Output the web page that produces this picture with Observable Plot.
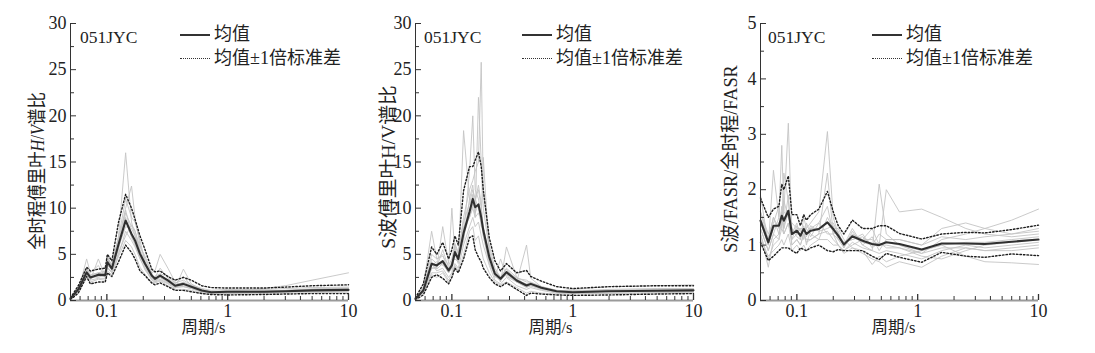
<!DOCTYPE html>
<html><head><meta charset="utf-8">
<script src="https://cdn.jsdelivr.net/npm/d3@7"></script>
<script src="https://cdn.jsdelivr.net/npm/@observablehq/plot@0.6"></script>
<style>
body{margin:0;background:#fff;width:1095px;height:353px;position:relative;overflow:hidden;font-family:"Liberation Serif","Noto Sans CJK SC",serif;color:#222;}
.panel{position:absolute;top:0;}
.ylab{position:absolute;white-space:nowrap;font-size:19px;line-height:20px;}
.leg{position:absolute;white-space:nowrap;font-size:18px;line-height:20px;}
.sw{position:absolute;height:0;}
</style></head><body>
<script>
// ---------- data ----------
// Panel 1: whole-record Fourier H/V ratio
const periods1 = [0.05,0.058,0.068,0.073,0.085,0.097,0.101,0.11,0.125,0.143,0.16,0.171,0.188,0.207,0.235,0.25,0.276,0.32,0.367,0.43,0.5,0.61,0.73,1,2,3,5,10];
const mean1  = [0.2,1.2,3.05,2.5,2.8,2.75,4.15,3.45,6.1,8.65,7.2,6.5,5.05,3.97,2.7,2.35,2.7,2.17,1.6,1.8,1.5,1.08,0.9,0.95,0.95,1.0,1.1,1.15];
const upper1 = [0.3,1.6,3.6,3.2,3.4,3.5,5.0,4.3,8.5,11.5,10,8.8,7.0,5.5,3.4,3.1,3.2,2.6,2.2,2.5,2.2,1.6,1.4,1.35,1.35,1.45,1.6,1.7];
const lower1 = [0.1,0.8,2.6,1.8,2.0,2.0,3.0,2.6,4.2,6.0,5.2,4.5,3.2,2.7,1.9,1.7,1.9,1.5,1.1,1.1,0.95,0.75,0.65,0.6,0.65,0.7,0.75,0.75];
const rec1a = [0.2,1.5,3.5,2.8,3.0,3.2,4.5,3.8,7,16,8.5,7,5.5,4.2,2.8,2.4,2.8,2.2,1.7,1.9,1.5,1.1,1.0,1.0,1.3,1.6,2.2,3.0];
const rec1b = [0.1,1.0,4.5,3.0,3.8,2.5,5.0,3.2,6.5,10,12.4,9,6,4.5,3.0,3.2,5.0,3.5,2.0,1.6,1.4,1.0,0.8,0.8,0.85,0.9,1.0,1.0];
const rec1c = [0.2,1.1,2.8,2.2,4.5,2.6,3.5,3.0,5.0,7.5,6.5,5.8,4.5,3.5,2.2,2.0,2.2,1.8,1.3,3.4,1.8,1.2,0.9,1.1,1.2,1.3,1.4,1.45];
const rec1d = [0.3,1.4,3.2,2.6,2.6,3.0,4.0,3.6,5.5,9.5,8.0,7.5,5.8,4.8,3.0,2.2,2.5,2.0,1.5,1.5,1.3,0.9,0.8,0.7,0.75,0.8,0.85,0.9];
const rec1e = [0.2,0.9,2.4,2.0,2.3,2.2,3.2,2.8,4.8,6.5,5.8,5.0,3.6,2.8,2.0,1.9,2.1,1.6,1.2,1.2,1.1,0.8,0.7,0.75,0.9,1.0,1.1,1.2];
const rec1f = [0.2,1.3,3.3,2.7,3.0,2.9,4.3,4.0,6.8,11,9,8.5,6.5,4.2,2.6,2.6,2.9,2.6,1.9,2.2,1.7,1.3,1.1,1.2,1.1,1.1,1.2,1.25];
const rec1g = [0.25,1.2,3.0,2.4,2.7,2.6,3.8,3.3,5.8,8.0,7.8,7.0,5.0,3.6,2.4,2.2,2.5,2.0,1.5,1.7,1.4,1.0,0.85,0.9,0.95,1.05,1.15,1.2];
const rec1h = [0.15,1.1,2.9,2.3,2.9,2.7,4.6,3.9,6.3,9.8,7.0,6.0,4.8,3.8,2.8,2.5,3.5,2.4,1.8,2.6,1.6,1.2,0.95,1.0,1.0,1.05,1.2,1.3];
const rec1i = [0.2,1.3,3.4,2.6,2.5,2.8,3.6,3.1,5.2,7.0,8.2,7.6,5.3,3.9,2.5,2.1,2.3,1.9,1.4,1.5,1.3,0.95,0.8,0.85,0.9,0.95,1.0,1.05];
const rec1j = [0.3,1.0,2.7,2.2,2.4,2.4,4.9,3.5,6.0,9.0,6.8,6.2,4.6,3.3,2.3,2.0,2.6,2.1,1.6,2.0,1.6,1.1,0.9,0.95,1.0,1.1,1.25,1.35];

// Panel 2: S-wave Fourier H/V ratio
const periods2 = [0.05,0.058,0.068,0.075,0.084,0.094,0.1,0.106,0.113,0.125,0.14,0.149,0.156,0.166,0.175,0.182,0.204,0.227,0.253,0.283,0.344,0.415,0.45,0.55,0.735,1,2,5,10];
const mean2  = [0.18,1.08,3.97,3.8,4.26,3.25,3.8,5.24,4.5,7.3,9.6,11.0,10.1,10.4,9.0,7.6,4.7,2.9,2.35,3.07,2.17,1.63,1.8,1.37,1.0,0.9,1.0,1.05,1.1];
const upper2 = [0.3,1.8,5.8,5.0,6.3,4.5,5.5,7.0,6.0,11.9,14.5,14.5,15.2,16.1,14.5,12,6.8,4.3,3.2,4.0,3.0,3.25,2.6,2.1,1.5,1.3,1.5,1.6,1.6];
const lower2 = [0.1,0.6,2.5,2.8,2.4,1.8,2.5,3.5,3.0,4.5,6.8,7.0,5.5,4.7,4.2,3.5,2.5,1.8,1.5,1.9,1.2,0.55,0.8,0.7,0.6,0.55,0.6,0.7,0.75];
const rec2a = [0.2,1.5,7.5,4.5,5.0,3.0,4.0,6.0,5.0,9,12,13,14,15,25.8,12,6,3.5,2.5,3.5,2.5,2.0,2.0,1.5,1.1,1.0,1.2,1.3,1.3];
const rec2b = [0.1,0.8,3.5,3.5,8.0,4.0,10,5.0,4.0,18.4,11,10,9,22,15,10,5.5,3.0,2.0,5.8,2.5,1.5,1.6,1.2,0.9,0.9,1.0,1.1,1.1];
const rec2c = [0.2,1.2,4.0,3.2,3.5,2.5,3.0,5.5,4.5,7,14,20,12,11,9,15.5,5,2.5,4.5,2.6,2.0,6.0,2.4,1.5,1.0,1.2,1.5,1.6,1.7];
const rec2d = [0.3,1.0,3.0,3.0,3.2,2.2,2.8,4.0,3.5,6,8,9,8,8.5,7,6,3.8,2.2,1.8,2.5,1.6,1.2,1.4,1.1,0.8,0.75,0.8,0.85,0.9];
const rec2e = [0.1,1.3,5.0,4.5,4.8,3.8,4.5,6.2,5.2,8.5,10.5,12,11,12,10,8,4.5,3.2,2.6,3.4,2.2,1.8,1.9,1.4,1.0,1.1,1.1,1.15,1.2];
const rec2f = [0.2,0.9,2.8,2.5,3.0,2.0,2.5,3.8,3.2,5,7.5,8,6.5,7,5.5,4.5,3.0,2.0,1.7,2.0,1.4,0.8,1.0,0.8,0.7,0.7,0.75,0.8,0.8];
const rec2g = [0.2,1.1,4.5,4.0,4.0,3.0,3.5,5.0,4.8,7.8,9.0,10,11,10,8.5,7.0,4.2,2.6,2.2,2.8,2.0,1.5,1.7,1.3,0.95,0.9,1.0,1.0,1.05];
const rec2h = [0.15,1.0,3.5,3.6,5.5,3.5,4.2,4.5,4.2,6.5,11,12.5,9.5,10.5,8.0,8.0,5.0,3.2,2.4,3.2,2.4,2.2,1.9,1.5,1.1,1.0,1.1,1.2,1.2];
const rec2i = [0.2,1.2,4.2,3.4,4.0,3.0,3.6,5.8,4.2,8.0,9.0,10.5,10.8,12.5,10.5,7.0,4.0,2.8,2.2,3.0,2.0,1.4,1.6,1.3,0.95,0.85,0.95,1.0,1.05];
const rec2j = [0.25,0.9,3.8,4.2,3.8,3.4,4.0,4.8,5.0,7.0,9.2,11.5,9.0,9.5,8.5,7.2,5.2,3.0,2.5,2.9,2.2,1.7,1.9,1.4,1.0,0.95,1.05,1.1,1.15];

// Panel 3: S-wave FASR / whole-record FASR
const periods3 = [0.05,0.058,0.064,0.071,0.075,0.078,0.085,0.091,0.1,0.107,0.114,0.12,0.13,0.152,0.179,0.2,0.22,0.245,0.288,0.35,0.42,0.48,0.55,0.706,1.08,1.58,2.5,3.6,6,10];
const mean3  = [1.44,1.05,1.35,1.35,1.53,1.44,1.62,1.2,1.26,1.17,1.29,1.2,1.26,1.29,1.41,1.29,1.17,1.01,1.16,1.08,1.02,1.0,1.05,1.02,0.92,1.03,1.03,1.02,1.06,1.10];
const upper3 = [1.85,1.5,1.65,1.7,2.1,2.0,2.25,1.55,1.55,1.35,1.55,1.45,1.55,1.65,1.97,1.6,1.35,1.2,1.45,1.3,1.3,1.35,1.35,1.21,1.11,1.2,1.23,1.22,1.28,1.36];
const lower3 = [1.05,0.72,0.8,0.9,0.95,0.95,0.95,0.9,0.85,0.95,0.92,0.9,0.95,1.0,0.9,0.88,0.92,0.9,0.9,0.9,0.8,0.74,0.85,0.78,0.69,0.87,0.8,0.78,0.84,0.81];
const rec3a = [1.9,1.0,2.35,1.5,2.8,1.6,3.2,1.2,1.4,1.1,1.5,1.3,1.4,1.6,3.05,1.5,1.2,1.0,1.3,1.0,0.9,2.1,1.2,1.0,0.85,1.1,1.2,1.3,1.45,1.65];
const rec3b = [1.2,0.6,1.1,1.2,1.4,2.3,1.8,1.0,1.1,1.0,1.2,1.1,1.1,1.2,2.3,1.2,1.0,0.9,1.0,1.1,1.3,1.0,2.0,1.6,1.65,1.5,1.3,1.2,1.15,1.2];
const rec3c = [1.6,1.2,1.4,1.7,1.3,1.8,1.5,1.4,1.3,1.3,1.1,1.4,1.2,1.1,1.5,1.3,1.3,1.1,0.95,0.9,0.65,0.8,0.7,0.8,0.9,1.0,0.8,0.7,0.68,0.65];
const rec3d = [1.3,0.9,1.2,1.1,1.6,1.2,1.4,1.1,1.2,1.2,1.3,1.0,1.3,1.4,1.2,1.2,1.1,0.95,1.2,1.1,1.1,1.0,1.0,0.95,0.8,0.75,0.9,1.0,1.05,1.1];
const rec3e = [1.5,1.1,1.5,1.3,1.5,1.3,1.6,1.3,1.2,1.3,1.3,1.2,1.3,1.3,1.4,1.4,1.2,1.05,1.1,1.15,1.0,1.2,1.1,1.1,1.0,1.3,1.4,1.3,1.2,1.25];
const rec3f = [1.1,0.8,0.9,1.0,1.1,1.0,1.2,0.9,1.0,0.9,1.0,0.9,1.0,1.1,1.1,1.0,1.0,0.85,0.95,0.85,0.75,0.7,0.6,0.7,0.6,0.8,0.95,0.9,0.9,0.95];
const rec3g = [1.4,1.0,1.3,1.4,1.5,1.5,1.6,1.2,1.25,1.15,1.3,1.2,1.25,1.3,1.4,1.25,1.15,1.0,1.15,1.05,1.0,1.0,1.05,1.0,0.9,1.0,1.05,1.05,1.1,1.15];
const rec3h = [1.6,1.1,1.5,1.2,1.7,1.3,1.9,1.1,1.35,1.25,1.2,1.3,1.15,1.4,1.7,1.2,1.25,0.95,1.25,1.0,1.15,0.9,1.1,1.1,1.0,1.15,1.1,1.15,1.2,1.3];
const rec3i = [1.3,0.9,1.2,1.5,1.4,1.6,1.5,1.3,1.15,1.1,1.35,1.15,1.35,1.25,1.3,1.35,1.1,1.05,1.1,1.2,0.95,1.05,0.95,0.95,0.85,0.95,0.95,0.9,0.95,1.0];
const rec3j = [1.2,0.75,1.0,1.1,1.3,1.2,1.4,1.0,1.1,1.0,1.2,1.05,1.1,1.2,1.25,1.1,1.0,0.9,1.05,0.95,0.9,0.85,0.9,0.85,0.75,0.9,1.0,0.95,1.0,1.05];

// tick labels / ticks
const xTickLabels = [0.1, 1, 10];
const xMinorTicks = [0.06,0.07,0.08,0.09,0.2,0.3,0.4,0.5,0.6,0.7,0.8,0.9,2,3,4,5,6,7,8,9];
const yMajor30 = [0,5,10,15,20,25,30];
const yMinor30 = [2.5,7.5,12.5,17.5,22.5,27.5];
const yMajor5 = [0,1,2,3,4,5];
const yMinor5 = [0.5,1.5,2.5,3.5,4.5];
const station = "051JYC";
const legendMean = "均值";
const legendStd = "均值±1倍标准差";
const xTitle = "周期/s";
const yTitles = ['全时程傅里叶<i>H</i>/<i>V</i>谱比', 'S波傅里叶H/V谱比', 'S波/FASR/全时程/FASR'];

// ---------- drawing ----------
const FONT = "'Liberation Serif','Noto Sans CJK SC',serif";
const W = 365, H = 353, ML = 70, MR = 17, MT = 23, MB = 53;
const PW = W - ML - MR, PH = H - MT - MB;

function rows(P, v){ return P.map((p,i)=>({p, v:v[i]})); }

function panel(P, mean, up, lo, recs, ymax, yMaj, yMin, xdx){
  return Plot.plot({
    width: W, height: H, marginLeft: ML, marginRight: MR, marginTop: MT, marginBottom: MB,
    x: {type: "log", domain: [0.05, 10]},
    y: {domain: [0, ymax]},
    style: {fontFamily: FONT, fontSize: "18px", color: "#222", background: "transparent", overflow: "visible"},
    marks: [
      ...recs.map(r => Plot.line(rows(P, r), {x: "p", y: "v", stroke: "#c4c4c4", strokeWidth: 0.9})),
      Plot.line(rows(P, up), {x: "p", y: "v", stroke: "#1e1e1e", strokeWidth: 1.4, strokeDasharray: "1.5,2"}),
      Plot.line(rows(P, lo), {x: "p", y: "v", stroke: "#1e1e1e", strokeWidth: 1.4, strokeDasharray: "1.5,2"}),
      Plot.line(rows(P, mean), {x: "p", y: "v", stroke: "#303030", strokeWidth: 2.1}),
      Plot.ruleY([0], {stroke: "#9a9a9a", strokeWidth: 2}),
      Plot.ruleX([0.05], {stroke: "#333", strokeWidth: 1}),
      Plot.tickY(yMaj, {y: d => d, stroke: "#333", insetRight: PW - 6}),
      Plot.tickY(yMin, {y: d => d, stroke: "#333", insetRight: PW - 4}),
      Plot.tickX(xTickLabels, {x: d => d, stroke: "#333", strokeWidth: 1.3, insetTop: PH - 6}),
      Plot.tickX(xMinorTicks, {x: d => d, stroke: "#333", insetTop: PH - 4}),
      Plot.axisY({ticks: yMaj, tickSize: 0, tickPadding: 4, label: null, fontSize: 18, tickFormat: d => String(d)}),
      Plot.axisX({ticks: xTickLabels, tickSize: 0, tickPadding: 4, label: null, fontSize: 18, tickFormat: d => String(d)}),
      Plot.text([xTitle], {text: d => d, frameAnchor: "bottom", dy: 32, dx: xdx, fontSize: 16.5})
    ]
  });
}

const specs = [
  {left: 0,   P: periods1, m: mean1, u: upper1, l: lower1, r: [rec1a,rec1b,rec1c,rec1d,rec1e,rec1f,rec1g,rec1h,rec1i,rec1j], ymax: 30, maj: yMajor30, min: yMinor30, yl: [38,171,158], st: 10, lg: 110, xdx: -6},
  {left: 345, P: periods2, m: mean2, u: upper2, l: lower2, r: [rec2a,rec2b,rec2c,rec2d,rec2e,rec2f,rec2g,rec2h,rec2i,rec2j], ymax: 30, maj: yMajor30, min: yMinor30, yl: [43,167,163], st: 9, lg: 107, xdx: -4},
  {left: 690, P: periods3, m: mean3, u: upper3, l: lower3, r: [rec3a,rec3b,rec3c,rec3d,rec3e,rec3f,rec3g,rec3h,rec3i,rec3j], ymax: 5, maj: yMajor5, min: yMinor5, yl: [41,159,188], st: 8, lg: 112, xdx: -6}
];

specs.forEach((s, i) => {
  const wrap = document.createElement("div");
  wrap.className = "panel";
  wrap.style.left = s.left + "px";
  wrap.appendChild(panel(s.P, s.m, s.u, s.l, s.r, s.ymax, s.maj, s.min, s.xdx));
  document.body.appendChild(wrap);

  // y title (rotated), fitted to the reference length
  const yt = document.createElement("div");
  yt.className = "ylab";
  yt.innerHTML = yTitles[i];
  document.body.appendChild(yt);
  const w = yt.offsetWidth, h = yt.offsetHeight;
  const k = s.yl[2] / w;
  yt.style.left = (s.left + s.yl[0] - w/2) + "px";
  yt.style.top = (s.yl[1] - h/2) + "px";
  yt.style.transform = `rotate(-90deg) scaleX(${k})`;

  const ax = s.left + ML;
  const st = document.createElement("div");
  st.className = "leg"; st.textContent = station; st.style.fontSize = "17.5px";
  st.style.left = (ax + s.st) + "px"; st.style.top = "27px";
  document.body.appendChild(st);

  const sw1 = document.createElement("div");
  sw1.className = "sw"; sw1.style.left = (ax + s.lg) + "px"; sw1.style.top = "34px";
  sw1.style.width = "30px"; sw1.style.borderTop = "2px solid #333";
  document.body.appendChild(sw1);
  const t1 = document.createElement("div");
  t1.className = "leg"; t1.textContent = legendMean;
  t1.style.left = (ax + s.lg + 34) + "px"; t1.style.top = "24px";
  document.body.appendChild(t1);

  const sw2 = document.createElement("div");
  sw2.className = "sw"; sw2.style.left = (ax + s.lg) + "px"; sw2.style.top = "58px";
  sw2.style.width = "30px"; sw2.style.borderTop = "1.5px dotted #333";
  document.body.appendChild(sw2);
  const t2 = document.createElement("div");
  t2.className = "leg"; t2.textContent = legendStd;
  t2.style.left = (ax + s.lg + 34) + "px"; t2.style.top = "48px";
  document.body.appendChild(t2);
});
</script>
</body></html>
